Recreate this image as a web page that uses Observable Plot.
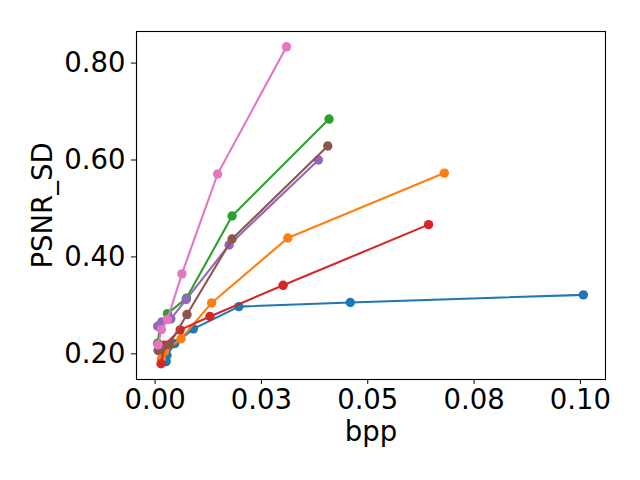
<!DOCTYPE html>
<html>
<head>
<meta charset="utf-8">
<script src="https://cdn.jsdelivr.net/npm/d3@7"></script>
<script src="https://cdn.jsdelivr.net/npm/@observablehq/plot@0.6"></script>
<style>
  html, body { margin: 0; padding: 0; background: #fff; }
  #chart { width: 640px; height: 480px; }
  #chart svg text { font-size: 27.5px; font-family: "DejaVu Sans", sans-serif; fill: #000; }
</style>
</head>
<body>
<div id="chart"></div>
<script>
// Series (tab10 colour order, drawn in this order)
const seriesNames = ["s1", "s2", "s3", "s4", "s5", "s6", "s7"];
const seriesColors = ["#1f77b4", "#ff7f0e", "#2ca02c", "#d62728", "#9467bd", "#8c564b", "#e377c2"];

const bpp1 = [0.0026, 0.0028, 0.0046, 0.0090, 0.0197, 0.0459, 0.1007];
const psnr1 = [0.184, 0.197, 0.221, 0.2515, 0.2975, 0.306, 0.3217];

const bpp2 = [0.0015, 0.0022, 0.0061, 0.0133, 0.0312, 0.0680];
const psnr2 = [0.190, 0.205, 0.231, 0.305, 0.439, 0.573];

const bpp3 = [0.0006, 0.0012, 0.0029, 0.0074, 0.0181, 0.0409];
const psnr3 = [0.222, 0.260, 0.283, 0.315, 0.4845, 0.6845];

const bpp4 = [0.0014, 0.0022, 0.0059, 0.0129, 0.0301, 0.0643];
const psnr4 = [0.1794, 0.218, 0.2495, 0.277, 0.3414, 0.4666];

const bpp5 = [0.0006, 0.0016, 0.0037, 0.0073, 0.0174, 0.0384];
const psnr5 = [0.257, 0.266, 0.272, 0.312, 0.4247, 0.600];

const bpp6 = [0.0007, 0.0015, 0.0033, 0.0075, 0.0181, 0.0406];
const psnr6 = [0.207, 0.212, 0.219, 0.281, 0.437, 0.629];

const bpp7 = [0.0007, 0.0015, 0.0029, 0.0063, 0.0147, 0.0309];
const psnr7 = [0.2186, 0.250, 0.2707, 0.365, 0.5711, 0.8336];

const xTicks = [0.0, 0.025, 0.05, 0.075, 0.1];
const xTickLabels = ["0.00", "0.03", "0.05", "0.08", "0.10"];
const yTicks = [0.2, 0.4, 0.6, 0.8];
const yTickLabels = ["0.20", "0.40", "0.60", "0.80"];

const allBpp = [bpp1, bpp2, bpp3, bpp4, bpp5, bpp6, bpp7];
const allPsnr = [psnr1, psnr2, psnr3, psnr4, psnr5, psnr6, psnr7];

const seriesData = seriesNames.map((name, i) =>
  allBpp[i].map((b, j) => ({series: name, bpp: b, psnr: allPsnr[i][j]}))
);

const marks = [];
seriesData.forEach((data, i) => {
  marks.push(Plot.line(data, {x: "bpp", y: "psnr", stroke: seriesColors[i], strokeWidth: 2.1}));
  marks.push(Plot.dot(data, {x: "bpp", y: "psnr", fill: seriesColors[i], r: 4.7}));
});

const chart = Plot.plot({
  width: 640,
  height: 480,
  marginLeft: 136,
  marginRight: 35,
  marginTop: 31,
  marginBottom: 101,
  style: {fontFamily: "DejaVu Sans", fontSize: "27.5px", background: "#fff", color: "#000"},
  x: {domain: [-0.00437, 0.1059]},
  y: {domain: [0.147, 0.8652]},
  marks: [
    ...marks,
    Plot.frame({stroke: "#000", strokeWidth: 1.1}),
    Plot.axisX(xTicks, {tickSize: 5, tickPadding: 5, label: null,
      tickFormat: (d, i) => xTickLabels[i]}),
    Plot.axisY(yTicks, {tickSize: 5, tickPadding: 6, label: null,
      tickFormat: (d, i) => yTickLabels[i]}),
    Plot.text(["bpp"], {frameAnchor: "bottom", dy: 53, lineAnchor: "middle", textAnchor: "middle", text: d => d}),
    Plot.text(["PSNR_SD"], {frameAnchor: "left", dx: -93, rotate: -90, lineAnchor: "middle", textAnchor: "middle", text: d => d})
  ]
});
document.getElementById("chart").appendChild(chart);
</script>
</body>
</html>
